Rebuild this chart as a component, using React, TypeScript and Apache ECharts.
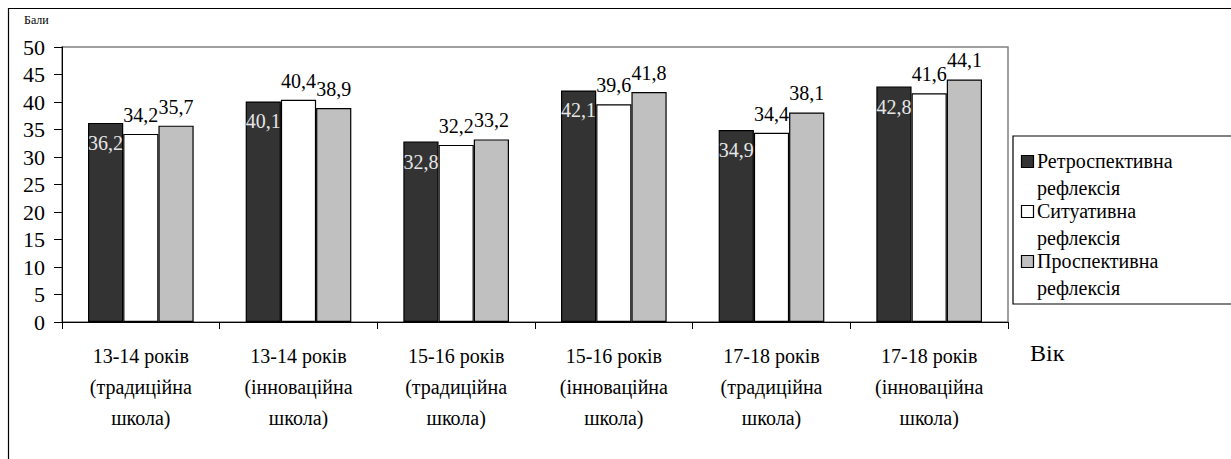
import React, { useEffect, useRef } from "react";
import * as echarts from "echarts";

const categories = [
  "13-14 років\n(традиційна\nшкола)",
  "13-14 років\n(інноваційна\nшкола)",
  "15-16 років\n(традиційна\nшкола)",
  "15-16 років\n(інноваційна\nшкола)",
  "17-18 років\n(традиційна\nшкола)",
  "17-18 років\n(інноваційна\nшкола)",
];
const seriesNames = ["Ретроспективна", "Ситуативна", "Проспективна"];
const seriesSecondLine = "рефлексія";
const retro = [36.2, 40.1, 32.8, 42.1, 34.9, 42.8];
const situ = [34.2, 40.4, 32.2, 39.6, 34.4, 41.6];
const prosp = [35.7, 38.9, 33.2, 41.8, 38.1, 44.1];
const colors = ["#333333", "#ffffff", "#c0c0c0"];
const yTicks = { min: 0, max: 50, interval: 5 };

const FONT = "Liberation Serif";

export default function App() {
  const ref = useRef<HTMLDivElement>(null);
  useEffect(() => {
    if (!ref.current) return;
    document.body.style.margin = "0";
    const chart = echarts.init(ref.current, null, { renderer: "svg" });
    const fmt = (p: any) => Number(p.value).toFixed(1).replace(".", ",");
    const values = [retro, situ, prosp];
    const legendGraphics: any[] = [];
    seriesNames.forEach((name, i) => {
      const y0 = 162 + i * 50;
      legendGraphics.push({
        type: "rect",
        shape: { x: 1021.5, y: y0 - 6.5, width: 12, height: 12 },
        style: { fill: colors[i], stroke: "#000", lineWidth: 1.2 },
      });
      legendGraphics.push({
        type: "text",
        x: 1037,
        y: y0 - 11,
        style: { text: name, fontFamily: FONT, fontSize: 20, fill: "#000" },
      });
      legendGraphics.push({
        type: "text",
        x: 1037,
        y: y0 + 16,
        style: { text: seriesSecondLine, fontFamily: FONT, fontSize: 20, fill: "#000" },
      });
    });
    chart.setOption({
      animation: false,
      backgroundColor: "#fff",
      textStyle: { fontFamily: FONT },
      grid: {
        left: 62,
        top: 47,
        width: 946,
        height: 275,
        show: true,
        borderColor: "#808080",
        borderWidth: 1.5,
        containLabel: false,
      },
      xAxis: {
        type: "category",
        data: categories,
        axisLine: { lineStyle: { color: "#000", width: 1 } },
        axisTick: { show: true, length: 7, lineStyle: { color: "#000" } },
        axisLabel: {
          interval: 0,
          margin: 18,
          fontFamily: FONT,
          fontSize: 20,
          lineHeight: 31,
          color: "#000",
          align: "center",
        },
      },
      yAxis: {
        type: "value",
        min: yTicks.min,
        max: yTicks.max,
        interval: yTicks.interval,
        axisLine: { show: true, lineStyle: { color: "#000", width: 1 } },
        axisTick: { show: true, length: 8, lineStyle: { color: "#000" } },
        splitLine: { show: false },
        axisLabel: { margin: 17, fontFamily: FONT, fontSize: 22, color: "#000" },
      },
      series: values.map((v, i) => ({
        name: seriesNames[i],
        type: "bar",
        data: v,
        barGap: "0%",
        barCategoryGap: "33%",
        itemStyle: { color: colors[i], borderColor: "#000", borderWidth: 1.2 },
        label: {
          show: true,
          position: i === 0 ? "insideTop" : "top",
          distance: i === 0 ? 10 : 9,
          formatter: fmt,
          fontFamily: FONT,
          fontSize: 20,
          color: i === 0 ? "#e6e6e6" : "#000",
        },
      })),
      graphic: [
        {
          type: "rect",
          shape: { x: 8.5, y: 8.5, width: 1260, height: 520 },
          style: { fill: "none", stroke: "#000", lineWidth: 1.2 },
          silent: true,
        },
        {
          type: "rect",
          shape: { x: 1013, y: 136, width: 240, height: 168 },
          style: { fill: "#fff", stroke: "#000", lineWidth: 1.2 },
        },
        ...legendGraphics,
        {
          type: "text",
          x: 24,
          y: 14,
          style: { text: "Бали", fontFamily: FONT, fontSize: 12, fill: "#000" },
        },
        {
          type: "text",
          x: 1030,
          y: 341,
          style: { text: "Вік", fontFamily: FONT, fontSize: 24, fill: "#000" },
        },
      ],
    });
    return () => chart.dispose();
  }, []);
  return <div ref={ref} style={{ width: 1231, height: 459 }} />;
}
